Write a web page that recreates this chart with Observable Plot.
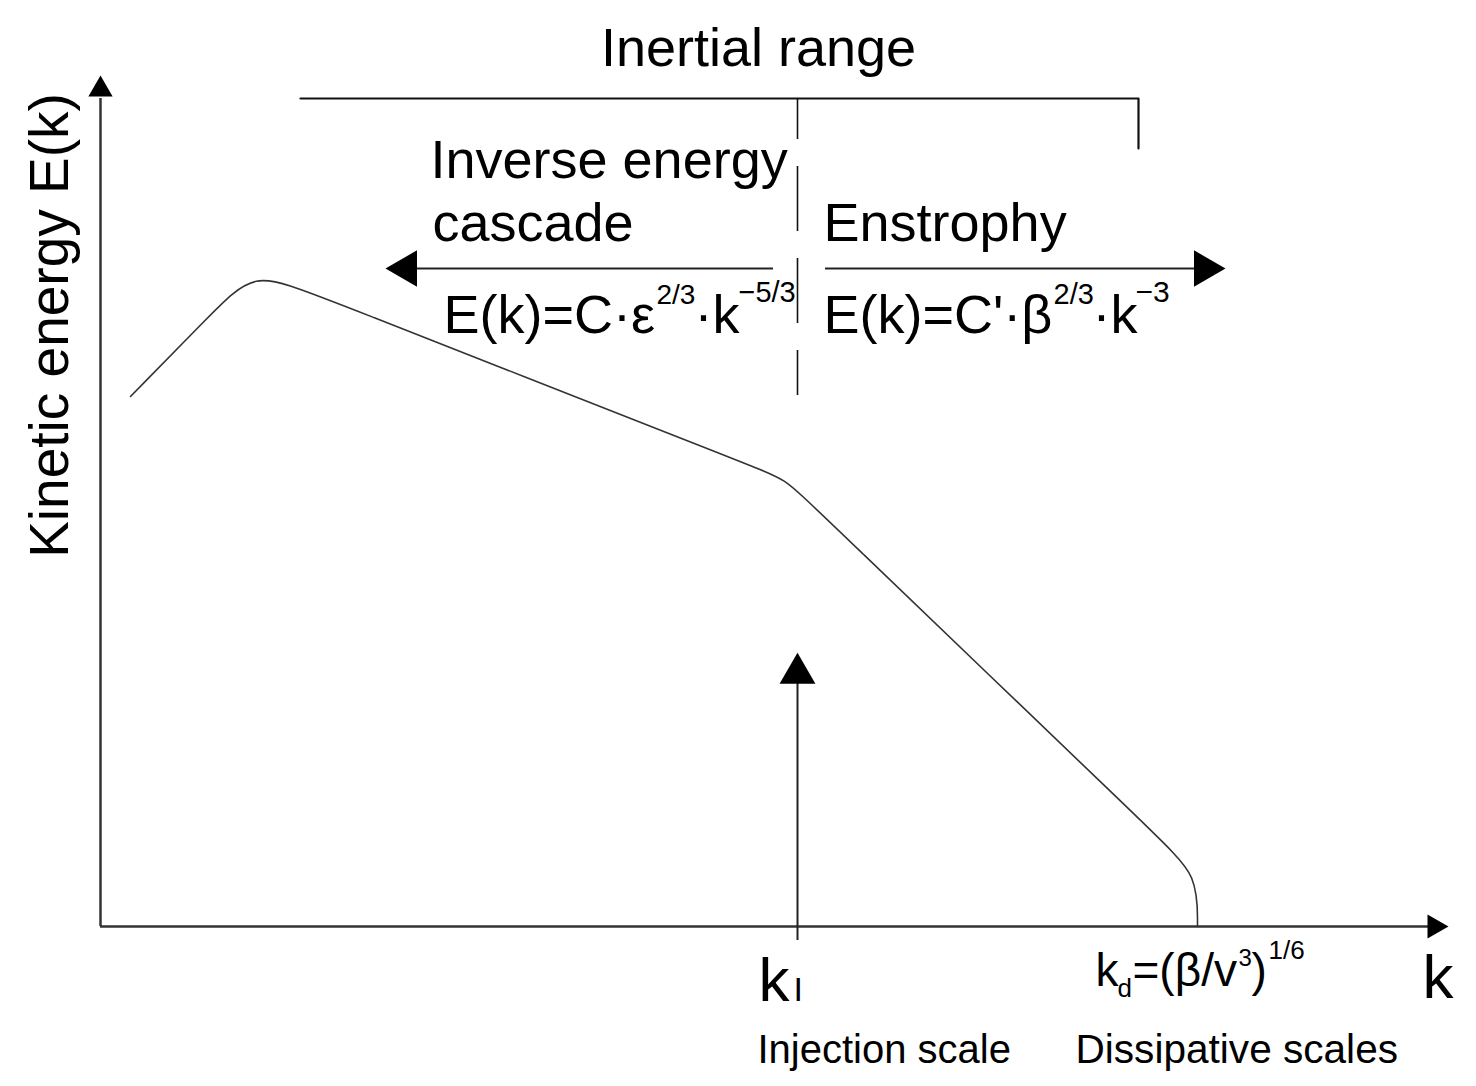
<!DOCTYPE html>
<html>
<head>
<meta charset="utf-8">
<script src="https://cdn.jsdelivr.net/npm/d3@7"></script>
<script src="https://cdn.jsdelivr.net/npm/@observablehq/plot@0.6"></script>
<style>
  html, body { margin: 0; padding: 0; background: #fff; }
  svg { display: block; }
</style>
</head>
<body>
<div id="chart"></div>
<script>
// ---- Schematic units (k horizontally, E vertically) ----
const kMax = 134.8;          // end of the k axis (arrow tip)
const eMax = 85.1;           // end of the E axis (arrow tip)
const kI = 69.7;             // injection wavenumber
const kd = 109.7;            // dissipation wavenumber

// energy spectrum E(k): control polygon of the smooth (B-spline) curve
const spectrumK = [3.0, 11.16, 15.36, 20.95, 65.19, 68.45, 70.97, 106.1, 109.7, 109.7];
const spectrumE = [53.0, 61.32, 65.6, 63.4, 46.03, 44.75, 42.32, 8.62, 5.15, 0.0];

// inertial range bracket
const bracketK = [20.0, 103.8, 103.8];
const bracketE = [82.8, 82.8, 77.8];

// cascade arrows (level, start, end)
const cascadeE = 65.8;
const inverseCascade = [67.3, 31.0];
const enstrophyCascade = [72.5, 110.2];

// labels
const titleText = "Inertial range";
const yLabel = "Kinetic energy E(k)";
const xLabel = "k";
const leftTitle = ["Inverse energy", "cascade"];
const rightTitle = "Enstrophy";
const leftFormula = ["E(k)=C·ε", "2/3", "·k", "−5/3"];
const rightFormula = ["E(k)=C'·β", "2/3", "·k", "−3"];
const kILabel = ["k", "I"];
const kdLabel = ["k", "d", "=(β/v", "3", ")", "1/6"];
const scaleNames = ["Injection scale", "Dissipative scales"];

const spectrum = spectrumK.map((k, i) => ({k, E: spectrumE[i]}));
const bracket = bracketK.map((k, i) => ({k, E: bracketE[i]}));

const FONT = "Liberation Sans, Arial, Helvetica, sans-serif";
const INK = "#111";

function label(text, k, E, size, extra = {}) {
  return Plot.text([text], {
    x: k, y: E, text: d => d,
    fontSize: size, fontFamily: FONT, fill: "#000",
    textAnchor: "start", lineAnchor: "bottom",
    ...extra
  });
}

const chart = Plot.plot({
  width: 1476,
  height: 1086,
  marginLeft: 100,
  marginRight: 28,
  marginTop: 75,
  marginBottom: 160,
  x: {domain: [0, kMax], axis: null},
  y: {domain: [0, eMax], axis: null},
  style: {fontFamily: FONT, background: "#fff", overflow: "visible"},
  marks: [
    // axes
    Plot.ruleX([0], {y1: 0, y2: eMax - 2.3, stroke: "#333", strokeWidth: 2.5}),
    Plot.ruleY([0], {x1: 0, x2: kMax - 1.8, stroke: "#333", strokeWidth: 2.5}),
    Plot.dot([{k: 0, E: eMax - 1.4, r: 0}, {k: kMax - 1.4, E: 0, r: 90}],
      {x: "k", y: "E", rotate: "r", symbol: "triangle", r: 9, fill: "#000", stroke: "none"}),

    // inertial range bracket
    Plot.line(bracket, {x: "k", y: "E", stroke: INK, strokeWidth: 2.2}),

    // dashed separator at kI
    Plot.ruleX([kI], {y1: 53.1, y2: 82.8, stroke: INK, strokeWidth: 1.6,
      strokeDasharray: "65,27", strokeDashoffset: 20}),

    // cascade arrows
    Plot.ruleY([cascadeE], {x1: inverseCascade[0], x2: inverseCascade[1], stroke: "#222", strokeWidth: 2}),
    Plot.ruleY([cascadeE], {x1: enstrophyCascade[0], x2: enstrophyCascade[1], stroke: "#222", strokeWidth: 2}),
    Plot.dot([{k: inverseCascade[1] - 0.4, r: -90}, {k: enstrophyCascade[1] + 0.2, r: 90}],
      {x: "k", y: cascadeE, rotate: "r", symbol: "triangle", r: 13.5, fill: "#000", stroke: "none"}),

    // injection arrow
    Plot.ruleX([kI], {y1: -1.4, y2: 25.5, stroke: "#222", strokeWidth: 2}),
    Plot.dot([kI], {x: d => d, y: 25.3, symbol: "triangle", r: 13.3, fill: "#000", stroke: "none"}),

    // spectrum
    Plot.line(spectrum, {x: "k", y: "E", curve: "basis", stroke: "#333", strokeWidth: 1.6}),

    // texts
    label(titleText, 65.8, 86.1, 54, {textAnchor: "middle"}),
    label(yLabel, -3.3, 60.1, 55, {textAnchor: "middle", rotate: -90}),
    label(leftTitle[0], 33.0, 74.9, 54),
    label(leftTitle[1], 33.2, 68.6, 54),
    label(rightTitle, 72.3, 68.6, 54),

    label(leftFormula[0], 34.3, 59.4, 54),
    label(leftFormula[1], 55.6, 62.3, 28),
    label(leftFormula[2], 59.4, 59.4, 54),
    label(leftFormula[3], 63.8, 62.5, 29),

    label(rightFormula[0], 72.3, 59.4, 54),
    label(rightFormula[1], 95.3, 62.3, 29),
    label(rightFormula[2], 99.2, 59.4, 54),
    label(rightFormula[3], 103.5, 62.5, 30),

    label(xLabel, 132.2, -7.1, 62),
    label(kILabel[0], 65.8, -7.4, 62),
    label(kILabel[1], 69.3, -7.4, 34),

    label(kdLabel[0], 99.5, -5.9, 46),
    label(kdLabel[1], 101.7, -7.0, 26),
    label(kdLabel[2], 103.2, -5.9, 46),
    label(kdLabel[3], 113.8, -3.9, 24),
    label(kdLabel[4], 115.1, -5.9, 46),
    label(kdLabel[5], 116.8, -3.2, 26),

    label(scaleNames[0], 65.7, -13.6, 40),
    label(scaleNames[1], 97.5, -13.6, 40.6)
  ]
});

document.getElementById("chart").appendChild(chart);
</script>
</body>
</html>
